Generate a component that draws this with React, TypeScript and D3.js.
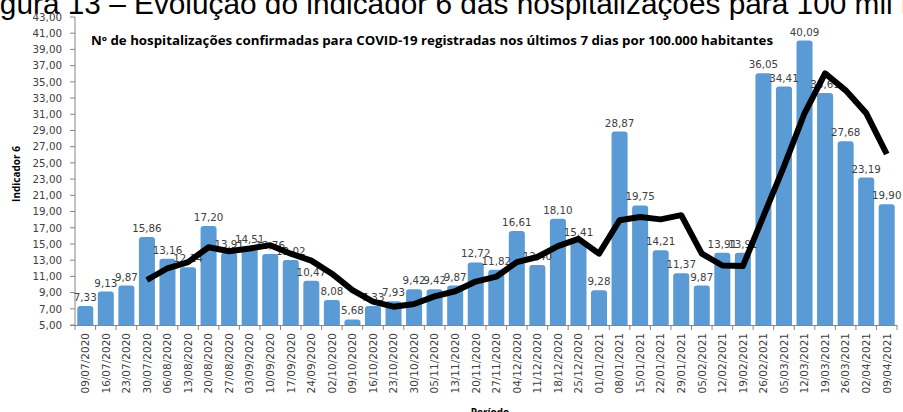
import { useEffect, useRef } from "react";
import * as d3 from "d3";

const periods = [
  "09/07/2020", "16/07/2020", "23/07/2020", "30/07/2020", "06/08/2020", "13/08/2020",
  "20/08/2020", "27/08/2020", "03/09/2020", "10/09/2020", "17/09/2020", "24/09/2020",
  "02/10/2020", "09/10/2020", "16/10/2020", "23/10/2020", "30/10/2020", "05/11/2020",
  "13/11/2020", "20/11/2020", "27/11/2020", "04/12/2020", "11/12/2020", "18/12/2020",
  "25/12/2020", "01/01/2021", "08/01/2021", "15/01/2021", "22/01/2021", "29/01/2021",
  "05/02/2021", "12/02/2021", "19/02/2021", "26/02/2021", "05/03/2021", "12/03/2021",
  "19/03/2021", "26/03/2021", "02/04/2021", "09/04/2021",
];

const weekly = [
  7.33, 9.13, 9.87, 15.86, 13.16, 12.14, 17.2, 13.91, 14.51, 13.76, 13.02, 10.47,
  8.08, 5.68, 7.33, 7.93, 9.42, 9.42, 9.87, 12.72, 11.82, 16.61, 12.4, 18.1,
  15.41, 9.28, 28.87, 19.75, 14.21, 11.37, 9.87, 13.91, 13.91, 36.05, 34.41, 40.09,
  33.61, 27.68, 23.19, 19.9,
];

// black trend line, starts at 30/07/2020
const trend = [
  null, null, null, 10.55, 12.0, 12.76, 14.59, 14.1, 14.44, 14.85, 13.8, 12.94,
  11.33, 9.31, 7.89, 7.26, 7.59, 8.53, 9.16, 10.36, 10.96, 12.76, 13.39, 14.73,
  15.63, 13.8, 17.92, 18.33, 18.03, 18.55, 13.8, 12.34, 12.27, 18.44, 24.57, 31.12,
  36.04, 33.95, 31.14, 26.1,
];

const yTicks = d3.range(5, 44, 2);

const W = 903, H = 412;
const left = 75, right = 897, top = 17, bottom = 325;

const fmt = (v: number) => v.toFixed(2).replace(".", ",");

export default function App() {
  const ref = useRef<SVGSVGElement>(null);

  useEffect(() => {
    const svg = d3.select(ref.current).html("");

    const x = d3.scaleBand().domain(periods).range([left, right]).paddingInner(0.22).paddingOuter(0.11);
    const y = d3.scaleLinear().domain([5, 43]).range([bottom, top]);
    const bw = x.bandwidth();

    // header of the figure, cut by the page edge
    svg.append("text")
      .attr("x", -25).attr("y", 14)
      .attr("font-family", "Liberation Sans, Arial")
      .attr("font-size", 29.8)
      .attr("fill", "#000")
      .text("Figura 13 – Evolução do indicador 6 das hospitalizações para 100 mil habitantes");

    svg.append("text")
      .attr("x", 91).attr("y", 45)
      .attr("font-family", "Open Sans, sans-serif")
      .attr("font-weight", "bold")
      .attr("font-size", 11.5)
      .attr("textLength", 682)
      .attr("lengthAdjust", "spacingAndGlyphs")
      .text("Nº de hospitalizações confirmadas para COVID-19 registradas nos últimos 7 dias por 100.000 habitantes");

    // bars with rounded tops
    const r = 3;
    svg.append("g").selectAll("path").data(weekly).enter().append("path")
      .attr("fill", "#5B9BD5")
      .attr("d", (v, i) => {
        const x0 = x(periods[i])!, x1 = x0 + bw, yt = y(v);
        return `M${x0},${bottom}V${yt + r}Q${x0},${yt} ${x0 + r},${yt}H${x1 - r}Q${x1},${yt} ${x1},${yt + r}V${bottom}Z`;
      });

    // axes
    const axisColor = "#868686";
    svg.append("line").attr("x1", left).attr("x2", left).attr("y1", top).attr("y2", bottom)
      .attr("stroke", axisColor);
    svg.append("line").attr("x1", left - 5).attr("x2", right).attr("y1", bottom + 0.5).attr("y2", bottom + 0.5)
      .attr("stroke", axisColor);

    const yg = svg.append("g");
    yTicks.forEach((t) => {
      yg.append("line").attr("x1", left - 5).attr("x2", left).attr("y1", y(t)).attr("y2", y(t)).attr("stroke", axisColor);
      yg.append("text").attr("x", 62).attr("y", y(t) + 3.8)
        .attr("text-anchor", "end")
        .attr("font-family", "DejaVu Sans, sans-serif")
        .attr("font-size", 10.3)
        .attr("fill", "#404040")
        .text(fmt(t));
    });

    const step = x.step();
    const xg = svg.append("g");
    periods.forEach((p, i) => {
      const cx = x(p)! + bw / 2;
      const tx = cx - step / 2;
      xg.append("line").attr("x1", tx).attr("x2", tx).attr("y1", bottom).attr("y2", bottom + 5).attr("stroke", axisColor);
      xg.append("text")
        .attr("transform", `translate(${cx + 3.8},${bottom + 8}) rotate(-90)`)
        .attr("text-anchor", "end")
        .attr("font-family", "DejaVu Sans, sans-serif")
        .attr("font-size", 10.5)
        .attr("fill", "#404040")
        .text(p);
      if (i === periods.length - 1) {
        xg.append("line").attr("x1", tx + step).attr("x2", tx + step).attr("y1", bottom).attr("y2", bottom + 5).attr("stroke", axisColor);
      }
    });

    // bar value labels
    svg.append("g").selectAll("text").data(weekly).enter().append("text")
      .attr("x", (_, i) => x(periods[i])! + bw / 2)
      .attr("y", (v) => y(v) - 5)
      .attr("text-anchor", "middle")
      .attr("font-family", "DejaVu Sans, sans-serif")
      .attr("font-size", 10.3)
      .attr("fill", "#404040")
      .text((v) => fmt(v));

    // trend line
    const line = d3.line<number | null>()
      .defined((d) => d != null)
      .x((_, i) => x(periods[i])! + bw / 2)
      .y((d) => y(d as number));
    svg.append("path").datum(trend)
      .attr("d", line)
      .attr("fill", "none")
      .attr("stroke", "#000")
      .attr("stroke-width", 6)
      .attr("stroke-linejoin", "round");

    // axis titles
    svg.append("text")
      .attr("transform", "translate(20,174) rotate(-90)")
      .attr("text-anchor", "middle")
      .attr("font-family", "Open Sans, sans-serif")
      .attr("font-weight", "bold")
      .attr("font-size", 10)
      .text("Indicador 6");
    svg.append("text")
      .attr("x", 490).attr("y", 416)
      .attr("text-anchor", "middle")
      .attr("font-family", "Open Sans, sans-serif")
      .attr("font-weight", "bold")
      .attr("font-size", 10)
      .text("Período");
  }, []);

  return (
    <svg ref={ref} width={W} height={H}
      style={{ position: "absolute", left: 0, top: 0, background: "#fff" }} />
  );
}
